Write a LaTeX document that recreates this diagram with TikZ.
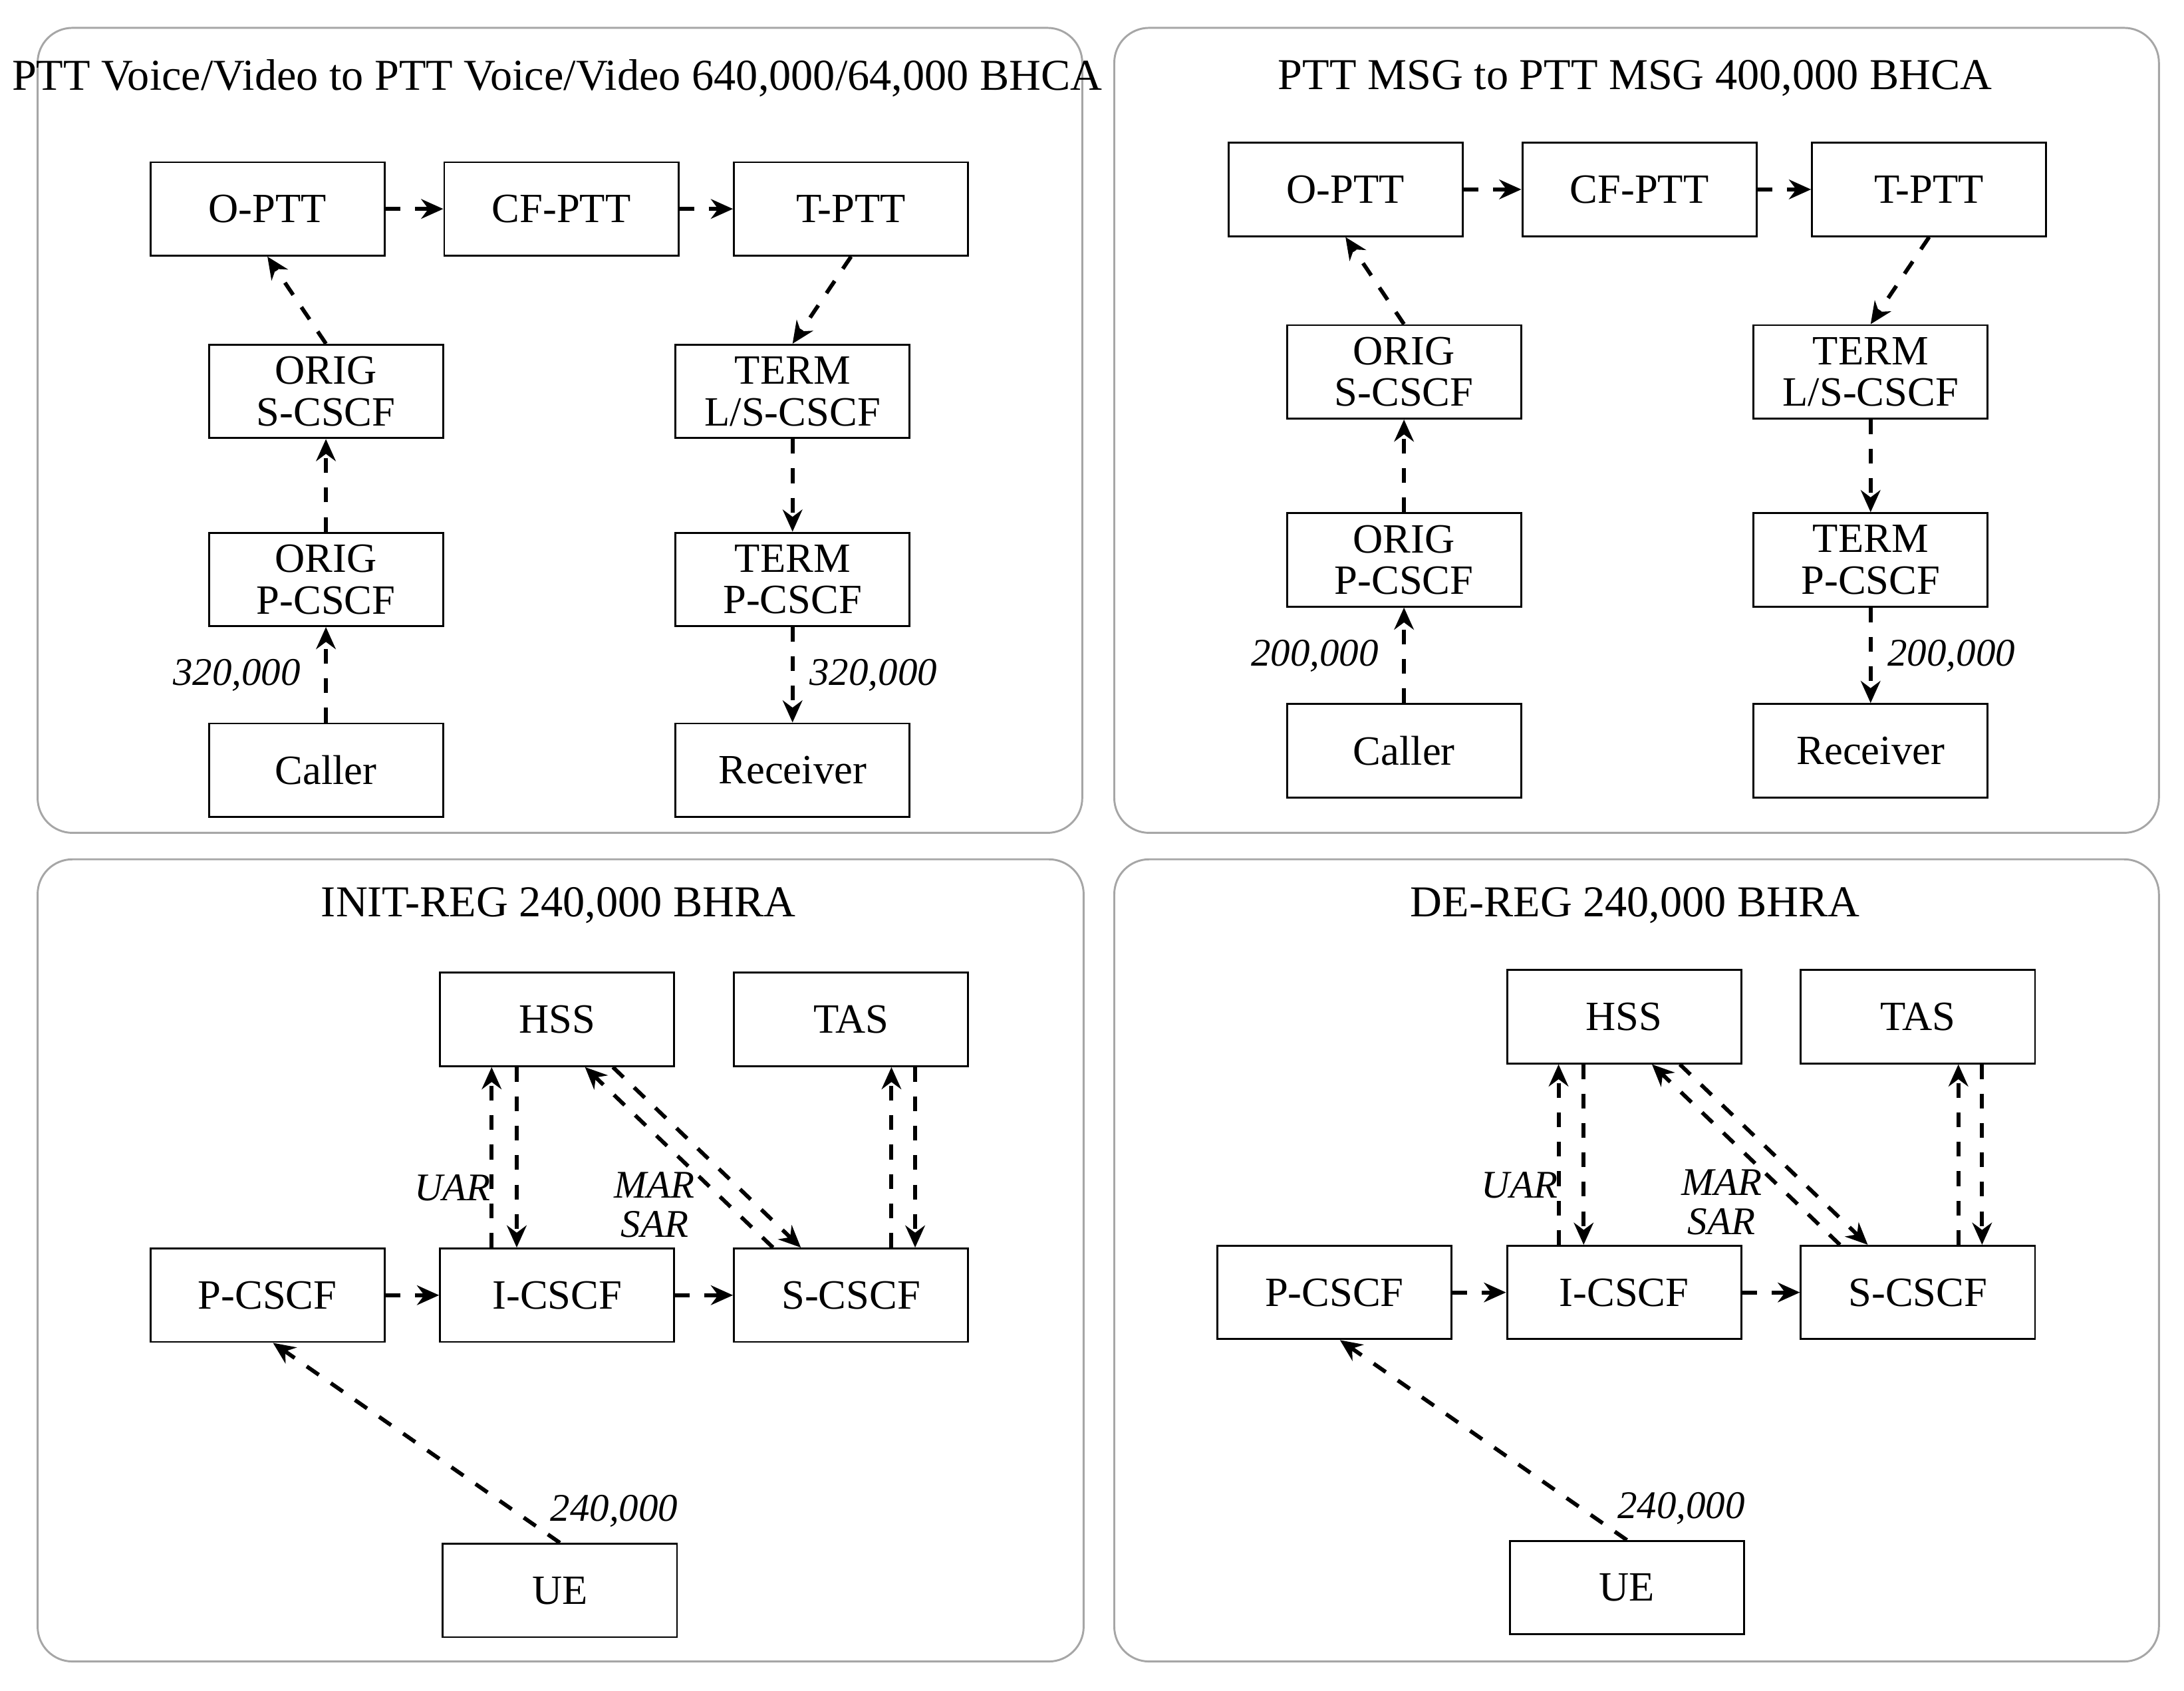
\documentclass[tikz,border=0pt]{standalone}
\usepackage{fontspec}
\setmainfont{Liberation Serif}
\usetikzlibrary{arrows.meta}

\tikzset{
  box/.style={draw, minimum width=1.68cm, minimum height=0.67cm, align=center,
    inner sep=1pt, font=\fontsize{8.5}{8.5}\selectfont},
  flow/.style={dashed, thick, -{Stealth[length=4.5pt,width=4pt]}},
  num/.style={font=\itshape\fontsize{8}{8}\selectfont},
  panel/.style={draw=gray!70, rounded corners=0.25cm},
  ttl/.style={font=\fontsize{9}{9}\selectfont}
}

\begin{document}
\begin{tikzpicture}[x=0.01cm, y=-0.01cm]
  \useasboundingbox (0,0) rectangle (1568,1214);

  % frames
  \draw[panel] (27,20) rectangle (777,598);
  \draw[panel] (800,20) rectangle (1550,598);
  \draw[panel] (27,617) rectangle (778,1193);
  \draw[panel] (800,617) rectangle (1550,1193);

  % call flows
  \node[ttl] at (400,56) {PTT Voice/Video to PTT Voice/Video 640,000/64,000 BHCA};
  \node[ttl] at (1174,56) {PTT MSG to PTT MSG 400,000 BHCA};
  \foreach \p/\dx/\dy/\n in {a/0/0/{320,000}, b/774/-14/{200,000}} {
    \begin{scope}[shift={(\dx,\dy)}]
      \node[box] (\p-optt) at (192,150) {O-PTT};
      \node[box] (\p-cfptt) at (403,150) {CF-PTT};
      \node[box] (\p-tptt) at (611,150) {T-PTT};
      \node[box] (\p-origs) at (234,281) {ORIG\\S-CSCF};
      \node[box] (\p-terms) at (569,281) {TERM\\L/S-CSCF};
      \node[box] (\p-origp) at (234,416) {ORIG\\P-CSCF};
      \node[box] (\p-termp) at (569,416) {TERM\\P-CSCF};
      \node[box] (\p-caller) at (234,553) {Caller};
      \node[box] (\p-recv) at (569,553) {Receiver};
      \draw[flow] (\p-optt) -- (\p-cfptt);
      \draw[flow] (\p-cfptt) -- (\p-tptt);
      \draw[flow] (\p-caller) -- (\p-origp);
      \draw[flow] (\p-origp) -- (\p-origs);
      \draw[flow] (\p-origs.north) -- ([xshift=0cm]\p-optt.south);
      \draw[flow] (\p-tptt.south) -- (\p-terms.north);
      \draw[flow] (\p-terms) -- (\p-termp);
      \draw[flow] (\p-termp) -- (\p-recv);
      \node[num] (\p-nin) at (170,485) {\n};
      \node[num] (\p-nout) at (627,485) {\n};
    \end{scope}
  }

  % registration
  \node[ttl] at (401,650) {INIT-REG 240,000 BHRA};
  \node[ttl] at (1174,650) {DE-REG 240,000 BHRA};
  \foreach \p/\dx/\dy in {c/0/0, d/766/-2} {
    \begin{scope}[shift={(\dx,\dy)}]
      \node[box] (\p-hss) at (400,732) {HSS};
      \node[box] (\p-tas) at (611,732) {TAS};
      \node[box] (\p-pcscf) at (192,930) {P-CSCF};
      \node[box] (\p-icscf) at (400,930) {I-CSCF};
      \node[box] (\p-scscf) at (611,930) {S-CSCF};
      \node[box] (\p-ue) at (402,1142) {UE};
      \draw[flow] (\p-pcscf) -- (\p-icscf);
      \draw[flow] (\p-icscf) -- (\p-scscf);
      \draw[flow] (\p-ue.north) -- ([xshift=0.04cm]\p-pcscf.south);
      \draw[flow] ([xshift=-0.47cm]\p-icscf.north) -- ([xshift=-0.47cm]\p-hss.south);
      \draw[flow] ([xshift=-0.29cm]\p-hss.south) -- ([xshift=-0.29cm]\p-icscf.north);
      \draw[flow] ([xshift=-0.56cm]\p-scscf.north) -- ([xshift=0.2cm]\p-hss.south);
      \draw[flow] ([xshift=0.4cm]\p-hss.south) -- ([xshift=-0.36cm]\p-scscf.north);
      \draw[flow] ([xshift=0.29cm]\p-scscf.north) -- ([xshift=0.29cm]\p-tas.south);
      \draw[flow] ([xshift=0.46cm]\p-tas.south) -- ([xshift=0.46cm]\p-scscf.north);
      \node[num] (\p-uar) at (325,853) {UAR};
      \node[num, align=center, inner sep=0pt] (\p-mar) at (470,865) {MAR\\SAR};
      \node[num] (\p-nue) at (441,1085) {240,000};
    \end{scope}
  }
\end{tikzpicture}
\end{document}
